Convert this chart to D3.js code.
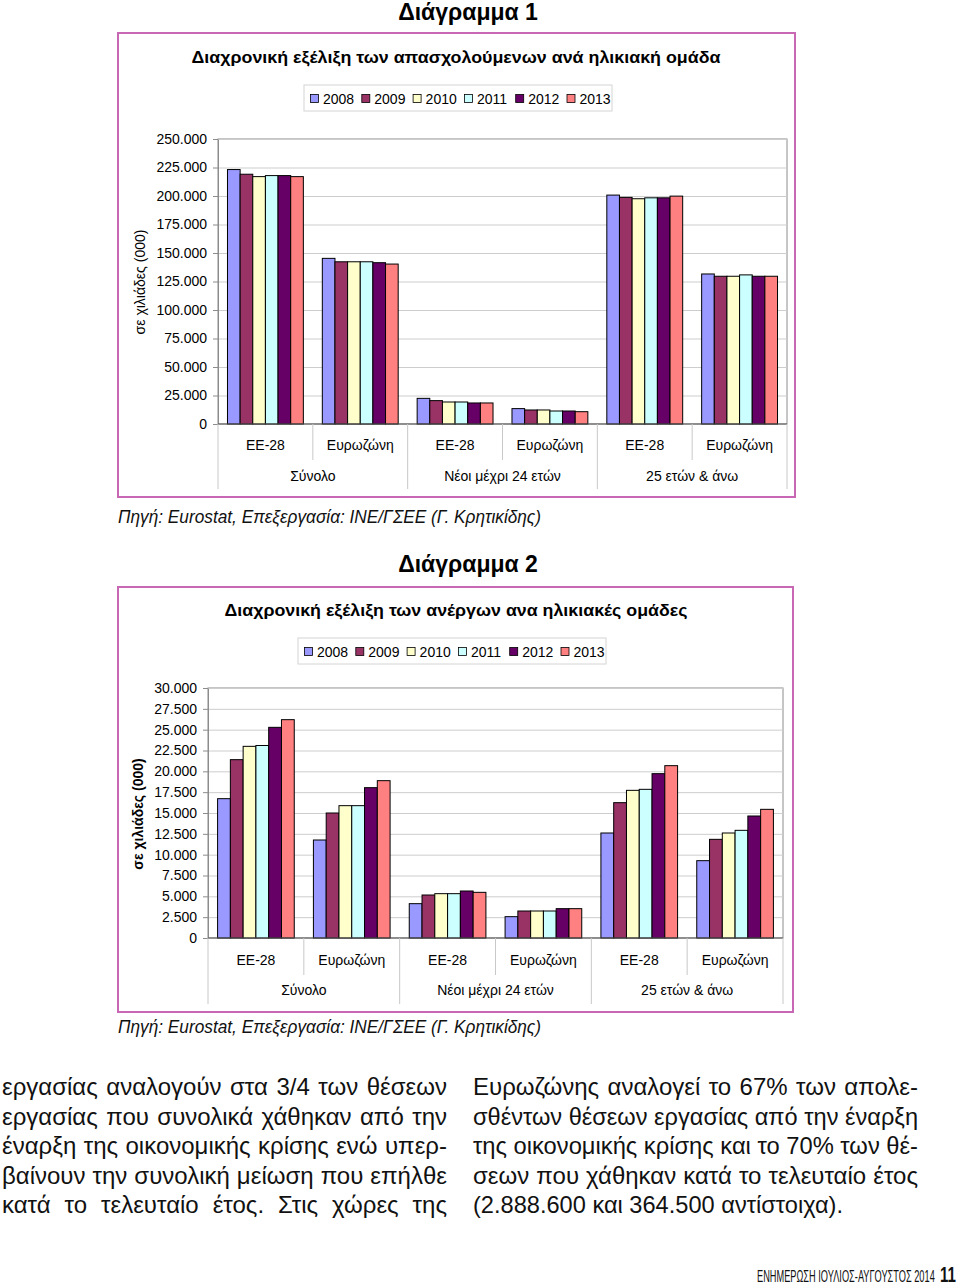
<!DOCTYPE html>
<html><head><meta charset="utf-8">
<script src="https://cdnjs.cloudflare.com/ajax/libs/d3/7.8.5/d3.min.js"></script>
<style>body{margin:0;background:#fff;} svg{display:block;}</style>
</head><body>
<svg id="page" width="960" height="1285"></svg>
<script>
// ---------- DATA ----------
const years = ["2008","2009","2010","2011","2012","2013"];
const colors = ["#9999FF","#993366","#FFFFCC","#CCFFFF","#660066","#FF8080"];
const areas = ["ΕΕ-28","Ευρωζώνη","ΕΕ-28","Ευρωζώνη","ΕΕ-28","Ευρωζώνη"];
const groups = ["Σύνολο","Νέοι μέχρι 24 ετών","25 ετών & άνω"];

// Chart 1: employed (thousands), order: Σύνολο EE/EZ, Νέοι EE/EZ, 25+ EE/EZ
const emp2008 = [223200,145300,22500,13500,200800,131600];
const emp2009 = [219100,142300,20500,12300,198800,129600];
const emp2010 = [217000,142300,19300,12300,197600,129600];
const emp2011 = [217900,142300,19300,11400,198400,130800];
const emp2012 = [217900,141500,18450,11400,198400,129600];
const emp2013 = [217000,140300,18450,10800,199900,129600];
const ticks1 = [0,25000,50000,75000,100000,125000,150000,175000,200000,225000,250000];

// Chart 2: unemployed (thousands)
const unemp2008 = [16720,11760,4120,2560,12600,9280];
const unemp2009 = [21400,15000,5160,3240,16240,11840];
const unemp2010 = [23000,15880,5320,3240,17720,12600];
const unemp2011 = [23100,15880,5320,3240,17840,12920];
const unemp2012 = [25280,18040,5640,3520,19720,14640];
const unemp2013 = [26200,18880,5480,3520,20680,15440];
const ticks2 = [0,2500,5000,7500,10000,12500,15000,17500,20000,22500,25000,27500,30000];

const leftLines = [
  "εργασίας αναλογούν στα 3/4 των θέσεων",
  "εργασίας που συνολικά χάθηκαν από την",
  "έναρξη της οικονομικής κρίσης ενώ υπερ-",
  "βαίνουν την συνολική μείωση που επήλθε",
  "κατά το τελευταίο έτος. Στις χώρες της"
];
const rightLines = [
  "Ευρωζώνης αναλογεί το 67% των απολε-",
  "σθέντων θέσεων εργασίας από την έναρξη",
  "της οικονομικής κρίσης και το 70% των θέ-",
  "σεων που χάθηκαν κατά το τελευταίο έτος",
  "(2.888.600 και 364.500 αντίστοιχα)."
];

// ---------- DRAW ----------
const fmt = d3.formatLocale({decimal:",",thousands:".",grouping:[3],currency:["",""]}).format(",d");
const svg = d3.select("#page");
const FONT = "'Liberation Sans', Arial, Helvetica, sans-serif";
const NARROW = "'Liberation Sans Narrow', 'Arial Narrow', 'Liberation Sans', Arial, sans-serif";
svg.append("rect").attr("width",960).attr("height",1285).attr("fill","#fff");

function fitText(sel, target, mode) {
  const w = sel.node().getComputedTextLength();
  const txt = sel.text();
  const n = (txt.match(/ /g)||[]).length;
  if (w > target || n === 0 || mode === "glyph") {
    sel.attr("textLength", target).attr("lengthAdjust","spacingAndGlyphs");
  } else {
    sel.attr("word-spacing", (target - w) / n);
  }
}

// horizontally squeeze a text (left-anchored at x) to a given width via transform
function squeeze(sel, x, yb, target, ky) {
  const w = sel.node().getComputedTextLength();
  const k = target / w;
  sel.attr("x", 0).attr("y", 0).attr("transform", `translate(${x},${yb}) scale(${k},${ky || 1})`);
}

function drawChart(cfg) {
  const g = svg.append("g").attr("font-family", FONT);
  g.append("text").attr("x", cfg.headX).attr("y", cfg.headY).attr("text-anchor","middle")
    .attr("font-weight","bold").attr("font-size",23).text(cfg.heading);
  g.append("rect").attr("x",cfg.box[0]).attr("y",cfg.box[1]).attr("width",cfg.box[2]).attr("height",cfg.box[3])
    .attr("fill","#fff").attr("stroke","#c868b4").attr("stroke-width",2);
  const t = g.append("text").attr("x", cfg.titleX).attr("y", cfg.titleY).attr("text-anchor","middle")
    .attr("font-weight","bold").attr("font-size",17).text(cfg.title);
  fitText(t, cfg.titleW, "glyph");

  // legend
  const lg = g.append("g").attr("transform",`translate(${cfg.legend[0]},${cfg.legend[1]})`);
  lg.append("rect").attr("width",308).attr("height",26).attr("fill","#fff").attr("stroke","#d4d4d4");
  years.forEach((yr,i) => {
    const lx = 6 + i*51.3;
    lg.append("rect").attr("x",lx+0.5).attr("y",9.5).attr("width",8).attr("height",8)
      .attr("fill",colors[i]).attr("stroke","#000").attr("stroke-width",0.8);
    lg.append("text").attr("x",lx+13).attr("y",18.5).attr("font-size",14).text(yr);
  });

  const P = cfg.plot;
  const y = d3.scaleLinear().domain([0, cfg.max]).range([P.y1, P.y0]);
  const x = d3.scaleBand().domain(d3.range(6)).range([P.x0, P.x1]);
  const xi = d3.scaleBand().domain(years).range([x.bandwidth()*0.1, x.bandwidth()*0.9]);

  // plot frame
  g.append("rect").attr("x",P.x0).attr("y",P.y0).attr("width",P.x1-P.x0).attr("height",P.y1-P.y0)
    .attr("fill","#fff").attr("stroke","#8c8c8c").attr("stroke-width",1);
  // gridlines
  const grid = g.append("g").attr("transform",`translate(${P.x0},0)`)
    .call(d3.axisLeft(y).tickValues(cfg.ticks).tickSize(-(P.x1-P.x0)).tickFormat(""));
  grid.select(".domain").remove();
  grid.selectAll("line").attr("stroke","#cdcdcd");
  // y axis
  const ya = g.append("g").attr("transform",`translate(${P.x0},0)`)
    .call(d3.axisLeft(y).tickValues(cfg.ticks).tickFormat(fmt).tickSize(5).tickPadding(6).tickSizeOuter(0));
  ya.select(".domain").attr("stroke","#8c8c8c");
  ya.selectAll("line").attr("stroke","#8c8c8c");
  ya.selectAll("text").attr("font-family",FONT).attr("font-size",14).attr("fill","#000");

  // y label
  g.append("text").attr("transform",`translate(${cfg.ylabX},${cfg.ylabY}) rotate(-90)`)
    .attr("text-anchor","middle").attr("font-size",14).attr("font-weight",cfg.ylabBold ? "bold":"normal")
    .text("σε χιλιάδες (000)");

  // bars
  cfg.series.forEach((vals, i) => {
    g.append("g").selectAll("rect").data(vals).join("rect")
      .attr("x",(d,c) => x(c) + xi(years[i]))
      .attr("y",d => y(d))
      .attr("width", xi.bandwidth())
      .attr("height", d => y(0) - y(d))
      .attr("fill", colors[i]).attr("stroke","#000").attr("stroke-width",1);
  });
  // baseline
  g.append("line").attr("x1",P.x0).attr("x2",P.x1).attr("y1",y(0)).attr("y2",y(0))
    .attr("stroke","#555").attr("stroke-width",1);

  // category separators
  for (let c = 0; c <= 6; c++) {
    const bx = c < 6 ? x(c) : P.x1;
    const outer = c % 2 === 0;
    g.append("line").attr("x1",bx).attr("x2",bx).attr("y1",y(0)).attr("y2", outer ? cfg.outerY : cfg.innerY)
      .attr("stroke","#c8c8c8").attr("stroke-width",1);
  }
  // labels
  areas.forEach((a,c) => {
    g.append("text").attr("x", x(c)+x.bandwidth()/2).attr("y",cfg.row1Y).attr("text-anchor","middle")
      .attr("font-size",14).text(a);
  });
  groups.forEach((gr,k) => {
    g.append("text").attr("x", x(2*k)+x.bandwidth()).attr("y",cfg.row2Y).attr("text-anchor","middle")
      .attr("font-size",14).text(gr);
  });

  // source
  const s = svg.append("text").attr("x",118).attr("y",cfg.srcY).attr("font-family",NARROW)
    .attr("font-style","italic").attr("font-size",18).attr("fill","#111")
    .text("Πηγή: Eurostat, Επεξεργασία: ΙΝΕ/ΓΣΕΕ (Γ. Κρητικίδης)");
  fitText(s, 423, "glyph");
}

drawChart({
  heading:"Διάγραμμα 1", headX:468, headY:20,
  box:[118,33,677,464],
  title:"Διαχρονική εξέλιξη των απασχολούμενων ανά ηλικιακή ομάδα", titleX:456, titleY:63, titleW:529,
  legend:[304,85],
  plot:{x0:218,x1:787,y0:139,y1:424},
  max:250000, ticks:ticks1,
  ylabX:145, ylabY:282, ylabBold:false,
  series:[emp2008,emp2009,emp2010,emp2011,emp2012,emp2013],
  row1Y:450, row2Y:481, innerY:460, outerY:489,
  srcY:523
});

drawChart({
  heading:"Διάγραμμα 2", headX:468, headY:572,
  box:[118,587,675,425],
  title:"Διαχρονική εξέλιξη των ανέργων ανα ηλικιακές ομάδες", titleX:456, titleY:616, titleW:463,
  legend:[298,638],
  plot:{x0:208,x1:783,y0:688,y1:938},
  max:30000, ticks:ticks2,
  ylabX:143, ylabY:814, ylabBold:true,
  series:[unemp2008,unemp2009,unemp2010,unemp2011,unemp2012,unemp2013],
  row1Y:965, row2Y:995, innerY:975, outerY:1004,
  srcY:1033
});

// body text
const baselines = [1095,1124.5,1154,1183.5,1213];
leftLines.forEach((l,i) => {
  const t = svg.append("text").attr("x",2).attr("y",baselines[i]).attr("font-family",NARROW)
    .attr("font-size",24).attr("fill","#111").text(l);
  fitText(t, 445);
});
rightLines.forEach((l,i) => {
  const t = svg.append("text").attr("x",473).attr("y",baselines[i]).attr("font-family",NARROW)
    .attr("font-size",24).attr("fill","#111").text(l);
  fitText(t, i < 4 ? 445 : 370);
});
// footer
const f1 = svg.append("text").attr("font-family",NARROW)
  .attr("font-size",16).attr("fill","#111").text("ΕΝΗΜΕΡΩΣΗ ΙΟΥΛΙΟΣ-ΑΥΓΟΥΣΤΟΣ 2014");
squeeze(f1, 757, 1282, 178);
svg.append("text").attr("x",940).attr("y",1283).attr("font-family",FONT)
  .attr("font-size",16).attr("font-weight","bold").attr("fill","#111")
  .attr("textLength",16).attr("lengthAdjust","spacingAndGlyphs")
  .style("transform-box","fill-box").style("transform-origin","bottom").style("transform","scale(1,1.35)")
  .text("11");
</script>
</body></html>
